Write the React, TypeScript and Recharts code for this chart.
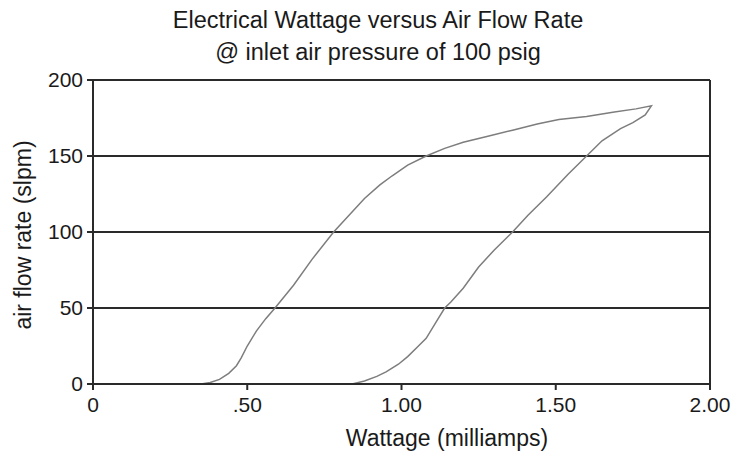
import React from "react";
import { LineChart, Line, XAxis, YAxis, CartesianGrid, ReferenceLine } from "recharts";

// Hysteresis loop: left branch (rising) then right branch (falling), in drawing order
const wattage = [
  0.35, 0.38, 0.41, 0.44, 0.465, 0.48, 0.50, 0.53, 0.56, 0.59, 0.65, 0.71, 0.78, 0.83, 0.88, 0.93, 0.97,
  1.02, 1.08, 1.14, 1.20, 1.28, 1.36, 1.44, 1.51, 1.60, 1.69, 1.76, 1.81,
  1.79, 1.75, 1.71, 1.65, 1.60, 1.54, 1.47, 1.41, 1.36, 1.30, 1.25, 1.20, 1.16, 1.14, 1.11,
  1.08, 1.05, 1.02, 0.99, 0.95, 0.92, 0.88, 0.84,
];
const airFlow = [
  0, 1, 3, 7, 12, 17, 25, 35, 43, 50, 65, 82, 100, 111, 122, 131, 137,
  144, 150, 155, 159, 163, 167, 171, 174, 176, 179, 181, 183,
  177, 172, 168, 160, 150, 138, 123, 111, 100, 88, 77, 63, 54, 50, 40,
  30, 24, 18, 13, 8, 5, 2, 0,
];

const xTicks = [0, 0.5, 1, 1.5, 2];
const xTickLabels = ["0", ".50", "1.00", "1.50", "2.00"];
const yTicks = [0, 50, 100, 150, 200];

const titleLines = ["Electrical Wattage versus Air Flow Rate", "@ inlet air pressure of 100 psig"];
const xLabel = "Wattage (milliamps)";
const yLabel = "air flow rate (slpm)";

const data = wattage.map((w, i) => ({ x: w, y: airFlow[i] }));

const FONT = "'Liberation Sans', Arial, Helvetica, sans-serif";
const INK = "#2a2a2a";
const TEXT = "#1a1a1a";

export default function App() {
  return (
    <div style={{ position: "absolute", left: 0, top: 0, width: 743, height: 454, background: "#fff" }}>
      <LineChart
        width={743}
        height={454}
        data={data}
        margin={{ top: 80, right: 33, bottom: 30, left: 33 }}
      >
        <CartesianGrid horizontal vertical={false} stroke={INK} strokeWidth={2} />
        <XAxis
          type="number"
          dataKey="x"
          domain={[0, 2]}
          ticks={xTicks}
          tickFormatter={(v: number) => xTickLabels[xTicks.indexOf(v)] ?? String(v)}
          height={40}
          stroke={INK}
          strokeWidth={2}
          tickSize={6}
          tickMargin={7}
          tick={{ fill: TEXT, fontSize: 21, fontFamily: FONT }}
          allowDataOverflow
        />
        <YAxis
          type="number"
          dataKey="y"
          domain={[0, 200]}
          ticks={yTicks}
          width={60}
          stroke={INK}
          strokeWidth={2}
          tickSize={6}
          tickMargin={4}
          tick={{ fill: TEXT, fontSize: 21, fontFamily: FONT }}
          allowDataOverflow
        />
        <ReferenceLine x={2} stroke={INK} strokeWidth={2} />
        <Line
          type="linear"
          dataKey="y"
          stroke="#7d7d7d"
          strokeWidth={1.5}
          dot={false}
          activeDot={false}
          isAnimationActive={false}
        />
      </LineChart>
      <svg
        width={743}
        height={454}
        style={{ position: "absolute", left: 0, top: 0, pointerEvents: "none" }}
      >
        <text x={378} y={28} textAnchor="middle" fontFamily={FONT} fontSize={23.5} fill={TEXT}>
          {titleLines[0]}
        </text>
        <text x={378} y={60} textAnchor="middle" fontFamily={FONT} fontSize={23.5} fill={TEXT}>
          {titleLines[1]}
        </text>
        <text x={447} y={446} textAnchor="middle" fontFamily={FONT} fontSize={23} fill={TEXT}>
          {xLabel}
        </text>
        <text
          x={31}
          y={235}
          textAnchor="middle"
          fontFamily={FONT}
          fontSize={23}
          fill={TEXT}
          transform="rotate(-90, 31, 235)"
        >
          {yLabel}
        </text>
      </svg>
    </div>
  );
}
